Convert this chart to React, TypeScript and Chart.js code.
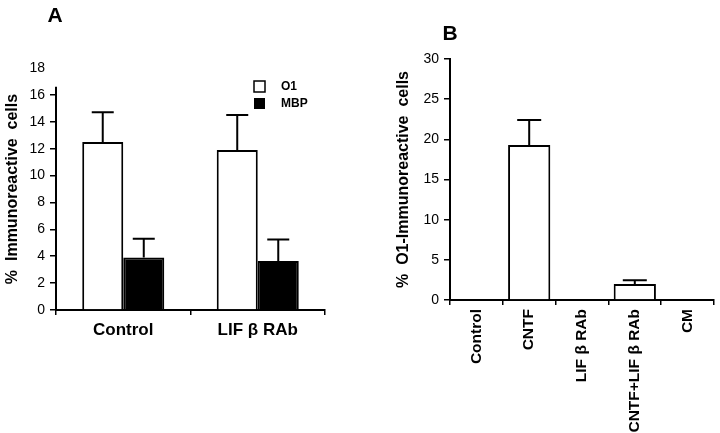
import React, { useEffect, useRef } from "react";
import { Chart, registerables } from "chart.js";
Chart.register(...registerables);

const FONT = "'Liberation Sans', Arial, Helvetica, sans-serif";

// Panel A
const groupsA = ["Control", "LIF β RAb"];
const o1ValuesA = [12.5, 11.9];
const o1ErrorsA = [2.2, 2.6];
const mbpValuesA = [3.9, 3.65];
const mbpErrorsA = [1.4, 1.6];
const seriesNamesA = ["O1", "MBP"];
const yMaxA = 18;
const yStepA = 2;

// Panel B
const groupsB = ["Control", "CNTF", "LIF β RAb", "CNTF+LIF β RAb", "CM"];
const o1ValuesB = [0, 19.3, 0, 2.0, 0];
const o1ErrorsB = [0, 3.1, 0, 0.45, 0];
const yMaxB = 30;
const yStepB = 5;

const errorBarPlugin = {
  id: "errorBars",
  afterDatasetsDraw(chart: any, _args: any, opts: any) {
    const { ctx } = chart;
    const y = chart.scales.y;
    const errs = opts.errors || [];
    chart.data.datasets.forEach((ds: any, di: number) => {
      const e = errs[di];
      if (!e) return;
      const meta = chart.getDatasetMeta(di);
      meta.data.forEach((bar: any, i: number) => {
        const err = e[i];
        if (!err) return;
        const v = ds.data[i];
        const base = y.getPixelForValue(v);
        const top = y.getPixelForValue(v + err);
        ctx.save();
        ctx.strokeStyle = "#000";
        ctx.lineWidth = 2;
        ctx.beginPath();
        ctx.moveTo(bar.x, base);
        ctx.lineTo(bar.x, top);
        ctx.moveTo(bar.x - opts.cap / 2, top);
        ctx.lineTo(bar.x + opts.cap / 2, top);
        ctx.stroke();
        ctx.restore();
      });
    });
  },
};

function ChartA() {
  const ref = useRef<HTMLCanvasElement>(null);
  useEffect(() => {
    const deco = {
      id: "decoA",
      afterDraw(chart: any) {
        const { ctx } = chart;
        const y = chart.scales.y;
        const area = chart.chartArea;
        ctx.save();
        // y axis line (stops a bit above 16)
        ctx.strokeStyle = "#000";
        ctx.lineWidth = 2;
        ctx.beginPath();
        ctx.moveTo(area.left, y.getPixelForValue(0) + 1);
        ctx.lineTo(area.left, y.getPixelForValue(16.6));
        ctx.stroke();
        // Panel letter
        ctx.fillStyle = "#000";
        ctx.font = `bold 21px ${FONT}`;
        ctx.textAlign = "center";
        ctx.textBaseline = "middle";
        ctx.fillText("A", 55, 16);
        // legend
        const lx = 254, ly = [81, 98];
        ctx.lineWidth = 1.5;
        ctx.strokeStyle = "#000";
        ctx.fillStyle = "#fff";
        ctx.fillRect(lx, ly[0], 11, 11);
        ctx.strokeRect(lx, ly[0], 11, 11);
        ctx.fillStyle = "#000";
        ctx.fillRect(lx, ly[1], 11, 11);
        ctx.font = `bold 12px ${FONT}`;
        ctx.textAlign = "left";
        ctx.fillText(seriesNamesA[0], 281, ly[0] + 6);
        ctx.fillText(seriesNamesA[1], 281, ly[1] + 6);
        ctx.restore();
      },
    };
    const chart = new Chart(ref.current!, {
      type: "bar",
      data: {
        labels: groupsA,
        datasets: [
          { label: seriesNamesA[0], data: o1ValuesA, backgroundColor: "#fff", borderColor: "#000", borderWidth: 2, categoryPercentage: 0.61, barPercentage: 1 },
          { label: seriesNamesA[1], data: mbpValuesA, backgroundColor: "#000", borderColor: "#000", borderWidth: 2, categoryPercentage: 0.61, barPercentage: 1 },
        ],
      },
      options: {
        responsive: false,
        animation: false,
        layout: { padding: { left: 0, top: 68, right: 40, bottom: 0 } },
        plugins: {
          legend: { display: false },
          tooltip: { enabled: false },
          errorBars: { errors: [o1ErrorsA, mbpErrorsA], cap: 22 },
        } as any,
        scales: {
          x: {
            afterFit: (s: any) => { s.height = 123; },
            border: { display: true, color: "#000", width: 2 },
            grid: { drawOnChartArea: false, drawTicks: true, tickLength: 5, color: "#000", lineWidth: 1.5 },
            ticks: { color: "#000", font: { family: FONT, size: 17, weight: "bold" }, padding: 5, maxRotation: 0 },
          },
          y: {
            min: 0,
            max: yMaxA,
            afterFit: (s: any) => { s.width = 56; },
            border: { display: false },
            grid: {
              drawOnChartArea: false,
              drawTicks: true,
              tickLength: 6,
              lineWidth: 1.5,
              color: "#000",
              tickColor: (c: any) => (c.tick && c.tick.value === yMaxA ? "rgba(0,0,0,0)" : "#000"),
            },
            ticks: { stepSize: yStepA, color: "#000", font: { family: FONT, size: 14 }, padding: 5 },
            title: {
              display: true,
              text: "%  Immunoreactive  cells",
              color: "#000",
              font: { family: FONT, size: 16, weight: "bold" },
              padding: { top: 3, bottom: 0 },
            },
          },
        },
      },
      plugins: [errorBarPlugin, deco],
    } as any);
    return () => chart.destroy();
  }, []);
  return <canvas ref={ref} width={365} height={433} style={{ position: "absolute", left: 0, top: 0 }} />;
}

function ChartB() {
  const ref = useRef<HTMLCanvasElement>(null);
  useEffect(() => {
    const deco = {
      id: "decoB",
      afterDraw(chart: any) {
        const { ctx } = chart;
        ctx.save();
        ctx.fillStyle = "#000";
        ctx.font = `bold 21px ${FONT}`;
        ctx.textAlign = "center";
        ctx.textBaseline = "middle";
        ctx.fillText("B", 80, 34);
        ctx.restore();
      },
    };
    const chart = new Chart(ref.current!, {
      type: "bar",
      data: {
        labels: groupsB,
        datasets: [
          { label: "O1", data: o1ValuesB, backgroundColor: "#fff", borderColor: "#000", borderWidth: 2, categoryPercentage: 1, barPercentage: 0.8 },
        ],
      },
      options: {
        responsive: false,
        animation: false,
        layout: { padding: { left: 20, top: 59, right: 6, bottom: 0 } },
        plugins: {
          legend: { display: false },
          tooltip: { enabled: false },
          errorBars: { errors: [o1ErrorsB], cap: 24 },
        } as any,
        scales: {
          x: {
            afterFit: (s: any) => { s.height = 133; },
            border: { display: true, color: "#000", width: 2 },
            grid: { drawOnChartArea: false, drawTicks: true, tickLength: 5, color: "#000", lineWidth: 1.5 },
            ticks: { color: "#000", font: { family: FONT, size: 15.5, weight: "bold" }, padding: 4, minRotation: 90, maxRotation: 90, autoSkip: false },
          },
          y: {
            min: 0,
            max: yMaxB,
            afterFit: (s: any) => { s.width = 60; },
            border: { display: true, color: "#000", width: 2 },
            grid: { drawOnChartArea: false, drawTicks: true, tickLength: 6, lineWidth: 1.5, color: "#000" },
            ticks: { stepSize: yStepB, color: "#000", font: { family: FONT, size: 14 }, padding: 5 },
            title: {
              display: true,
              text: "%  O1-Immunoreactive  cells",
              color: "#000",
              font: { family: FONT, size: 16, weight: "bold" },
              padding: { top: 4, bottom: 0 },
            },
          },
        },
      },
      plugins: [errorBarPlugin, deco],
    } as any);
    return () => chart.destroy();
  }, []);
  return <canvas ref={ref} width={350} height={433} style={{ position: "absolute", left: 370, top: 0 }} />;
}

export default function App() {
  return (
    <div style={{ position: "fixed", left: 0, top: 0, width: 720, height: 433, background: "#fff" }}>
      <ChartA />
      <ChartB />
    </div>
  );
}
